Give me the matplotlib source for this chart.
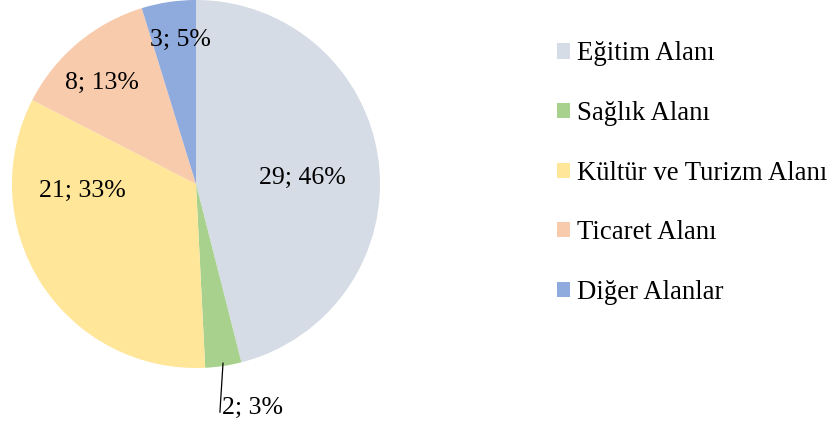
import numpy as np
import matplotlib
matplotlib.use("Agg")
import matplotlib.pyplot as plt

plt.rcParams['font.family'] = ['Liberation Serif', 'DejaVu Serif']

# data
categories = ["Eğitim Alanı", "Sağlık Alanı", "Kültür ve Turizm Alanı",
              "Ticaret Alanı", "Diğer Alanlar"]
counts = [29, 2, 21, 8, 3]
colors = ["#D6DCE5", "#A9D18E", "#FFE699", "#F8CBAD", "#8FAADC"]

# label placement (in pie radius units), best-fit style like the original
label_pos = [(0.576, 0.035), None, (-0.620, -0.036), (-0.511, 0.550), (-0.087, 0.784)]
outside_label = (0.141, -1.218)

W, H = 835, 425
cx, cy, R = 196, 184, 184  # pie center / radius in pixels

fig = plt.figure(figsize=(W / 100, H / 100), dpi=100)
ax = fig.add_axes([0, 0, 1, 1])

wedges, _ = ax.pie(counts, colors=colors, startangle=90, counterclock=False,
                   radius=1, center=(0, 0), wedgeprops=dict(linewidth=0))

ax.set_xlim(-cx / R, (W - cx) / R)
ax.set_ylim((cy - H) / R, cy / R)
ax.set_aspect('auto')
ax.axis('off')

total = sum(counts)
fs = 18.5
for i, (n, w) in enumerate(zip(counts, wedges)):
    txt = f"{n}; {round(100 * n / total)}%"
    if label_pos[i] is not None:
        ax.text(*label_pos[i], txt, ha='center', va='center', fontsize=fs)
    else:
        mid = np.deg2rad((w.theta1 + w.theta2) / 2)
        x0, y0 = 0.985 * np.cos(mid), 0.985 * np.sin(mid)
        ax.plot([x0, outside_label[0] - 0.011], [y0, -1.24],
                color='black', lw=0.9)
        ax.text(*outside_label, txt, ha='left', va='center', fontsize=fs)

fig.legend(wedges, categories, loc='upper left',
           bbox_to_anchor=(557 / W, 1 - 41.5 / H), frameon=False,
           fontsize=19.3, handlelength=0.5, handleheight=0.5,
           handletextpad=0.26, labelspacing=1.29, borderpad=0,
           borderaxespad=0)

fig.savefig("out.png", dpi=100)
